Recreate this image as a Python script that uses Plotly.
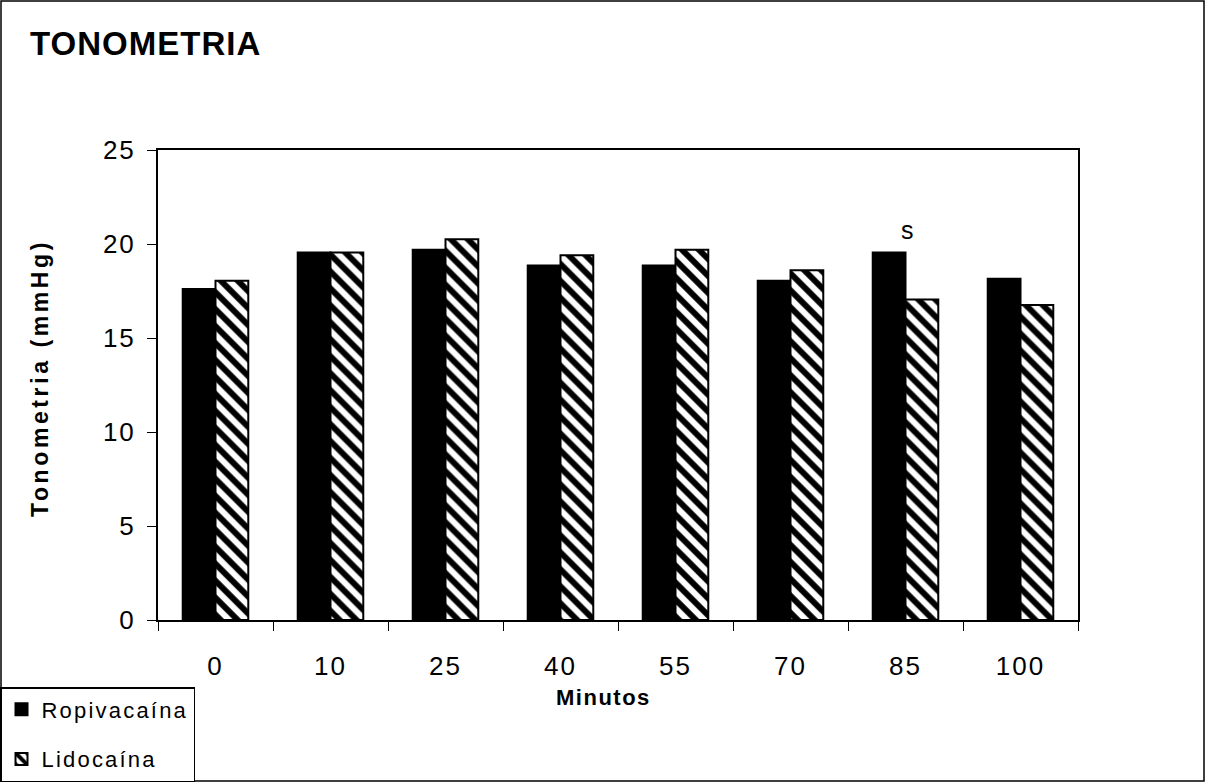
import plotly.graph_objects as go

# Tonometry readings (mmHg) per time point, two anaesthetic groups
minutos = ["0", "10", "25", "40", "55", "70", "85", "100"]
ropivacaina = [17.6, 19.55, 19.7, 18.85, 18.85, 18.05, 19.55, 18.15]
lidocaina = [18.05, 19.55, 20.25, 19.4, 19.7, 18.6, 17.05, 16.75]
y_ticks = [0, 5, 10, 15, 20, 25]

FONT = "Liberation Sans, Arial, sans-serif"
W, H = 1205, 782
L, R, T, B = 158, 127, 150, 162
pw, ph = W - L - R, H - T - B


def spaced(text, px):
    return f'<span style="letter-spacing:{px}px">{text}</span>'


fig = go.Figure()
fig.add_trace(go.Bar(
    x=minutos, y=ropivacaina, name=spaced("Ropivacaína", 2.2),
    legendgroup="rop",
    marker=dict(color="black", line=dict(color="black", width=2)),
))
fig.add_trace(go.Bar(
    x=minutos, y=lidocaina, name=spaced("Lidocaína", 2.2),
    legendgroup="lid",
    marker=dict(color="white", line=dict(color="black", width=2),
                pattern=dict(shape="\\", fgcolor="black", bgcolor="white",
                             fgopacity=1, size=12, solidity=0.5)),
))

# significance mark above the 85 min group (category index on the x axis)
i85 = minutos.index("85")
fig.add_annotation(x=i85, y=max(ropivacaina[i85], lidocaina[i85]), text="s",
                   showarrow=False, yanchor="bottom", yshift=6, xshift=2,
                   font=dict(family=FONT, size=25, color="black"))


def px_x(p):
    return (p - L) / pw


def px_y(p):
    return (H - B - p) / ph


# axis titles
fig.add_annotation(xref="paper", yref="paper", x=px_x(603), y=px_y(697),
                   text="<b>" + spaced("Minutos", 1.5) + "</b>", showarrow=False,
                   xanchor="center", yanchor="middle",
                   font=dict(family=FONT, size=22, color="black"))
fig.add_annotation(xref="paper", yref="paper", x=px_x(40), y=px_y(378),
                   text="<b>" + spaced("Tonometria (mmHg)", 3.6) + "</b>",
                   showarrow=False, textangle=-90,
                   xanchor="center", yanchor="middle",
                   font=dict(family=FONT, size=23, color="black"))

# outer border around the whole chart
fig.add_shape(type="rect", xref="paper", yref="paper",
              x0=px_x(1), x1=px_x(W - 1), y0=px_y(H - 1), y1=px_y(1),
              line=dict(color="black", width=1.5), layer="below")

fig.update_layout(
    width=W, height=H,
    margin=dict(l=L, r=R, t=T, b=B, autoexpand=False),
    paper_bgcolor="white", plot_bgcolor="white",
    barmode="group", bargap=0.43, bargroupgap=0,
    font=dict(family=FONT, color="black"),
    title=dict(text="<b>" + spaced("TONOMETRIA", 1) + "</b>",
               xref="container", yref="container",
               x=30 / W, xanchor="left", y=1 - 43 / H, yanchor="middle",
               font=dict(family=FONT, size=33, color="black")),
    showlegend=True,
    legend=dict(xref="container", yref="container", x=0.0, y=0.0,
                xanchor="left", yanchor="bottom",
                bordercolor="black", borderwidth=1.5, bgcolor="white",
                font=dict(family=FONT, size=22, color="black"),
                tracegroupgap=18, itemwidth=30),
    xaxis=dict(
        type="category", range=[-0.5, len(minutos) - 0.5],
        tickvals=minutos, ticktext=[spaced(m, 2) for m in minutos],
        showline=True, linecolor="black", linewidth=2, mirror=True,
        ticks="outside", tickson="boundaries", ticklen=9, tickcolor="black",
        ticklabelstandoff=22,
        tickfont=dict(family=FONT, size=26), automargin=False,
        showgrid=False,
    ),
    yaxis=dict(
        range=[0, 25], tickvals=y_ticks,
        ticktext=[spaced(str(v), 2) for v in y_ticks],
        showline=True, linecolor="black", linewidth=2, mirror=True,
        ticks="outside", ticklen=9, tickcolor="black",
        ticklabelstandoff=6,
        tickfont=dict(family=FONT, size=26), automargin=False,
        showgrid=False, zeroline=False,
    ),
)

fig.write_html("out.html")
